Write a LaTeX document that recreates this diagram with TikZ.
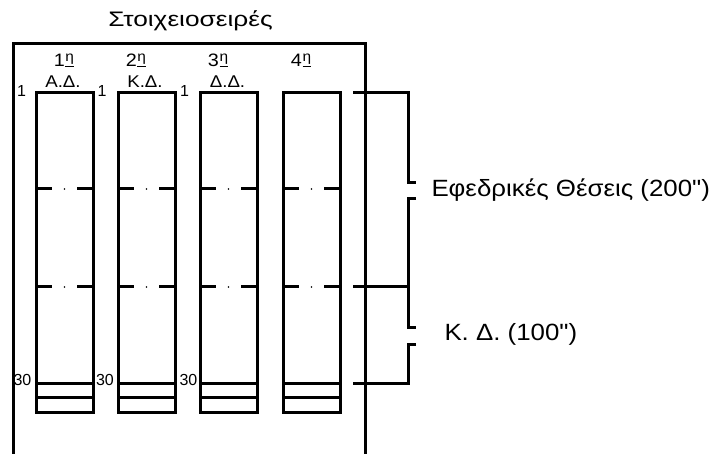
\documentclass[tikz,border=0pt]{standalone}
\usepackage{fontspec}
\setmainfont{Liberation Sans}[Ligatures=TeXOff]
\newcommand{\ordn}[1]{\scalebox{1.1}[1]{#1\hspace{0.5pt}\raisebox{5pt}{\fontsize{14}{14}\selectfont\underline{η}}}}
\newcommand{\wide}[2]{\scalebox{#1}[1]{#2}}
\begin{document}
\begin{tikzpicture}[x=1pt,y=-1pt,line width=3pt,line join=miter,
  lbl/.style={inner sep=0pt,anchor=base},
  ordlbl/.style={lbl,font=\fontsize{18}{18}\selectfont},
  typlbl/.style={lbl,font=\fontsize{17}{17}\selectfont},
  numlbl/.style={lbl,font=\fontsize{16}{16}\selectfont},
  sidelbl/.style={inner sep=0pt,anchor=base west,font=\fontsize{23.5}{23.5}\selectfont}]
\useasboundingbox (0,0) rectangle (712,454);
\fill[white] (0,0) rectangle (712,454);
% frame
\draw (13,456) -- (13,44) -- (365,44) -- (365,456);
% columns
\foreach \l in {36,118,200,283}{
  \draw (\l,93) rectangle ({\l+57},412);
  \draw (\l,383) -- ({\l+57},383);
  \draw (\l,397) -- ({\l+57},397);
  \foreach \y in {189,287}{
    \draw (\l,\y) -- ({\l+16},\y);
    \fill ({\l+28.5},\y) circle (0.9);
    \draw ({\l+41},\y) -- ({\l+57},\y);
  }
}
% brace
\coordinate (b1) at (353,93);
\coordinate (b2) at (353,287);
\coordinate (b3) at (353,383);
\draw (b1) -- (408,93) -- (408,183) -- (416,183);
\draw (416,199) -- (408,199) -- (408,327) -- (416,327);
\draw (416,344) -- (408,344) -- (408,383) -- (b3);
\draw (b2) -- (408,287);
% texts
\node[lbl,font=\fontsize{21}{21}\selectfont] (title) at (190.5,27) {\wide{1.25}{Στοιχειοσειρές}};
\node[ordlbl] (o1) at (64,67) {\ordn{1}};
\node[ordlbl] (o2) at (136,67) {\ordn{2}};
\node[ordlbl] (o3) at (218,67) {\ordn{3}};
\node[ordlbl] (o4) at (301,67) {\ordn{4}};
\node[typlbl] (t1) at (63,88) {\wide{1.1}{Α.Δ.}};
\node[typlbl] (t2) at (145,88) {\wide{1.1}{Κ.Δ.}};
\node[typlbl] (t3) at (227.5,88) {\wide{1.1}{Δ.Δ.}};
\node[numlbl] (n1) at (21.5,97) {1};
\node[numlbl] (n2) at (102,97) {1};
\node[numlbl] (n3) at (184.5,97) {1};
\node[numlbl] (m1) at (22.5,385) {30};
\node[numlbl] (m2) at (105,385) {30};
\node[numlbl] (m3) at (188.5,385) {30};
\node[sidelbl] (res) at (430,197) {\wide{1.1}{Εφεδρικές Θέσεις (200")}};
\node[sidelbl] (kd) at (443,340) {\wide{1.1}{Κ. Δ. (100")}};
\end{tikzpicture}
\end{document}
